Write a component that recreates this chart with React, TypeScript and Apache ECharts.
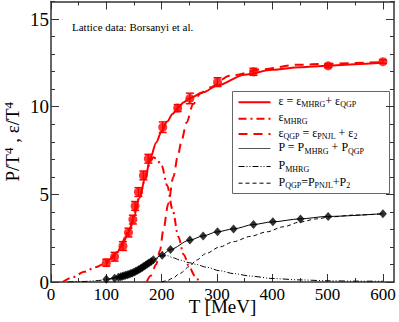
import React, { useEffect, useRef } from 'react';
import * as echarts from 'echarts';

// Lattice data (Borsanyi et al.) epsilon/T^4
const latticeT = [100, 115, 130, 140, 148, 152, 158, 167, 176, 202, 229, 251, 301, 366, 501, 600];
const latticeE = [1.1, 1.44, 2.05, 2.82, 3.56, 4.34, 5.13, 6.08, 7.03, 8.83, 9.92, 10.47, 11.4, 11.99, 12.33, 12.57];
const latticeErr = [0.2, 0.25, 0.25, 0.25, 0.25, 0.25, 0.25, 0.25, 0.25, 0.3, 0.2, 0.3, 0.25, 0.2, 0.1, 0.1];

// Lattice data P/T^4
const pDataT = [100, 115, 122, 126, 129, 132, 135, 138, 141, 144, 147, 150, 153, 156, 159, 162, 165, 168, 171, 174, 177, 181, 185, 201, 216, 251, 275, 301, 330, 366, 401, 451, 501, 600];
const pDataV = [0.15, 0.21, 0.27, 0.3, 0.33, 0.35, 0.38, 0.41, 0.44, 0.48, 0.52, 0.56, 0.61, 0.66, 0.71, 0.77, 0.83, 0.9, 0.96, 1.03, 1.09, 1.17, 1.27, 1.53, 1.86, 2.39, 2.63, 2.86, 3.03, 3.28, 3.43, 3.6, 3.74, 3.9];

// Model curves
const eTotT = [100, 110, 120, 130, 140, 150, 160, 170, 180, 190, 200, 210, 220, 230, 240, 250, 275, 300, 350, 400, 450, 500, 550, 600];
const eTotV = [1.05, 1.35, 1.72, 2.2, 2.85, 3.75, 4.8, 5.9, 7.1, 7.95, 8.6, 9.15, 9.6, 9.95, 10.25, 10.48, 10.82, 11.2, 11.82, 12.1, 12.25, 12.33, 12.42, 12.5];

const eMhrgT = [21, 40, 60, 80, 100, 120, 140, 160, 170, 180, 185, 190, 200, 210, 220, 230, 240, 250, 260, 268];
const eMhrgV = [0, 0.28, 0.58, 0.84, 1.08, 1.72, 2.85, 4.8, 5.9, 6.95, 7.12, 7.05, 6.65, 5.5, 4.1, 2.6, 1.55, 0.85, 0.35, 0];

const eQgpT = [173, 180, 190, 197, 203, 212, 221, 230, 236, 245, 257, 270, 287, 323, 384, 444, 500, 600];
const eQgpV = [0, 0.35, 1.0, 1.8, 2.95, 4.47, 5.98, 7.3, 8.07, 9.1, 10.15, 10.75, 11.1, 11.76, 12.14, 12.39, 12.45, 12.55];

const pTotT = [100, 120, 140, 160, 180, 200, 216, 250, 275, 300, 330, 366, 400, 450, 500, 600];
const pTotV = [0.14, 0.26, 0.44, 0.74, 1.15, 1.53, 1.86, 2.38, 2.63, 2.86, 3.03, 3.28, 3.43, 3.6, 3.74, 3.9];

const pMhrgT = [30, 60, 80, 100, 120, 140, 160, 180, 190, 200, 210, 221, 233, 250, 263, 280, 305, 330, 360, 400, 450, 500, 550, 600];
const pMhrgV = [0, 0.03, 0.07, 0.13, 0.25, 0.43, 0.73, 1.13, 1.33, 1.48, 1.5, 1.38, 1.25, 1.1, 1.0, 0.85, 0.64, 0.48, 0.34, 0.2, 0.12, 0.07, 0.05, 0.04];

const pQgpT = [200, 210, 220, 233, 250, 263, 280, 305, 330, 360, 390, 420, 450, 480, 504, 550, 600];
const pQgpV = [0, 0.08, 0.22, 0.49, 0.88, 1.25, 1.62, 2.0, 2.3, 2.6, 2.86, 3.15, 3.42, 3.6, 3.71, 3.82, 3.88];

// Axis ticks
const xMajor = [0, 100, 200, 300, 400, 500, 600];
const xMinor = [50, 150, 250, 350, 450, 550];
const yMajor = [0, 5, 10, 15];
const yMinor = [1, 2, 3, 4, 6, 7, 8, 9, 11, 12, 13, 14, 16];

const legendLabels = [
  'ε = ε{s|MHRG}+ ε{s|QGP}',
  'ε{s|MHRG}',
  'ε{s|QGP} = ε{s|PNJL} + ε{s|2}',
  'P = P{s|MHRG} + P{s|QGP}',
  'P{s|MHRG}',
  'P{s|QGP}=P{s|PNJL}+P{s|2}',
];

const FONT = 'Liberation Serif, Times New Roman, serif';
const RED = '#ff0000';

const zip = (a: number[], b: number[]) => a.map((x, i) => [x, b[i]]);

export default function App() {
  const ref = useRef<HTMLDivElement>(null);
  useEffect(() => {
    if (!ref.current) return;
    const chart = echarts.init(ref.current, undefined, { renderer: 'svg' });
    const xmin = 0, xmax = 620, ymin = 0, ymax = 16;
    const axisLineStyle = { color: '#333', width: 1.5 };
    const mkX = (pos: 'bottom' | 'top', ticks: number[], len: number, main: boolean, labels: boolean) => ({
      type: 'value', position: pos, min: xmin, max: xmax,
      axisLine: { show: main, onZero: false, lineStyle: axisLineStyle },
      axisTick: { show: true, inside: true, length: len, customValues: ticks, lineStyle: { color: '#333', width: 1 } },
      axisLabel: labels
        ? { show: true, customValues: xMajor, fontFamily: FONT, fontSize: 17, color: '#000', margin: 4 }
        : { show: false },
      splitLine: { show: false },
      ...(labels ? {
        name: 'T [MeV]', nameLocation: 'middle', nameGap: 15, nameMoveOverlap: false,
        nameTextStyle: { fontFamily: FONT, fontSize: 19, color: '#000', verticalAlign: 'top' },
      } : {}),
    });
    const mkY = (pos: 'left' | 'right', ticks: number[], len: number, main: boolean, labels: boolean) => ({
      type: 'value', position: pos, min: ymin, max: ymax,
      axisLine: { show: main, onZero: false, lineStyle: axisLineStyle },
      axisTick: { show: true, inside: true, length: len, customValues: ticks, lineStyle: { color: '#333', width: 1 } },
      axisLabel: labels
        ? { show: true, customValues: yMajor, fontFamily: FONT, fontSize: 19, color: '#000', margin: 2 }
        : { show: false },
      splitLine: { show: false },
      ...(labels ? {
        name: 'P/T{sup|4} , ε/T{sup|4}', nameLocation: 'middle', nameGap: 28, nameRotate: 90, nameMoveOverlap: false,
        nameTextStyle: {
          fontFamily: FONT, fontSize: 19, color: '#000',
          rich: { sup: { fontFamily: FONT, fontSize: 13, color: '#000', padding: [0, 0, 8, 0] } },
        },
      } : {}),
    });

    const line = (name: string, t: number[], v: number[], color: string, width: number, dash: any) => ({
      name, type: 'line', data: zip(t, v), showSymbol: false, symbol: 'none',
      smooth: 0.3, smoothMonotone: 'x',
      lineStyle: { color, width, type: dash },
      z: 3, silent: true,
    });

    const rowY = [10.7, 27.3, 42.5, 57, 75, 91.7];
    const rowStyles = [
      { stroke: RED, lineWidth: 2, lineDash: null },
      { stroke: RED, lineWidth: 2, lineDash: [8, 4, 2, 4] },
      { stroke: RED, lineWidth: 2, lineDash: [9, 6] },
      { stroke: '#555', lineWidth: 1.2, lineDash: null },
      { stroke: '#000', lineWidth: 1, lineDash: [6, 2, 1, 2, 1, 2] },
      { stroke: '#000', lineWidth: 1, lineDash: [4, 3] },
    ];
    const legendChildren: any[] = [
      { type: 'rect', shape: { x: 0, y: 0, width: 157, height: 102 }, style: { fill: '#fff', stroke: '#666', lineWidth: 1 } },
    ];
    rowY.forEach((y, i) => {
      legendChildren.push({
        type: 'line', shape: { x1: 6, y1: y, x2: 38, y2: y },
        style: { ...rowStyles[i], lineDash: rowStyles[i].lineDash || undefined },
      });
      legendChildren.push({
        type: 'text', x: 46, y: y - 1.5,
        style: {
          text: legendLabels[i], fontFamily: FONT, fontSize: 12, fill: '#000',
          verticalAlign: 'middle', align: 'left',
          rich: { s: { fontFamily: FONT, fontSize: 8, fill: '#000', padding: [8, 0, 0, 0] } },
        },
      });
    });

    chart.setOption({
      animation: false,
      backgroundColor: '#fff',
      grid: { left: 51, right: 5, top: 1.5, bottom: 40, containLabel: false, outerBoundsMode: 'none' },
      xAxis: [
        mkX('bottom', xMajor, 8, true, true),
        mkX('bottom', xMinor, 4, false, false),
        mkX('top', xMajor, 8, true, false),
        mkX('top', xMinor, 4, false, false),
      ],
      yAxis: [
        mkY('left', yMajor, 8, true, true),
        mkY('left', yMinor, 4, false, false),
        mkY('right', yMajor, 8, true, false),
        mkY('right', yMinor, 4, false, false),
      ],
      graphic: [
        {
          type: 'text', left: 72, top: 21,
          style: { text: 'Lattice data: Borsanyi et al.', fontFamily: FONT, fontSize: 11, fill: '#000' },
        },
        { type: 'group', left: 232, top: 91, children: legendChildren, z: 10 },
      ],
      series: [
        line('P QGP', pQgpT, pQgpV, '#000', 1, [4, 3]),
        line('P MHRG', pMhrgT, pMhrgV, '#000', 1, [6, 2, 1, 2, 1, 2]),
        line('P', pTotT, pTotV, '#000', 1, 'solid'),
        {
          name: 'P lattice', type: 'scatter', data: zip(pDataT, pDataV),
          symbol: 'diamond', symbolSize: [8, 9], itemStyle: { color: '#000' }, z: 4, silent: true,
        },
        line('e MHRG', eMhrgT, eMhrgV, RED, 2, [8, 4, 2, 4]),
        line('e QGP', eQgpT, eQgpV, RED, 2, [9, 6]),
        line('e', eTotT, eTotV, RED, 2, 'solid'),
        {
          name: 'e err', type: 'custom', silent: true, z: 5,
          data: latticeT.map((t, i) => [t, latticeE[i], latticeErr[i]]),
          renderItem: (params: any, api: any) => {
            const x = api.value(0), y = api.value(1), e = api.value(2);
            const top = api.coord([x, y + e]);
            const bot = api.coord([x, y - e]);
            const st = { stroke: RED, lineWidth: 1.5 };
            return {
              type: 'group',
              children: [
                { type: 'line', shape: { x1: top[0], y1: top[1], x2: bot[0], y2: bot[1] }, style: st },
                { type: 'line', shape: { x1: top[0] - 4, y1: top[1], x2: top[0] + 4, y2: top[1] }, style: st },
                { type: 'line', shape: { x1: bot[0] - 4, y1: bot[1], x2: bot[0] + 4, y2: bot[1] }, style: st },
              ],
            };
          },
        },
        {
          name: 'e lattice', type: 'scatter', data: zip(latticeT, latticeE),
          symbol: 'circle', symbolSize: 9, itemStyle: { color: RED }, z: 6, silent: true,
        },
      ],
    });
    return () => chart.dispose();
  }, []);
  return <div ref={ref} style={{ position: 'fixed', left: 0, top: 0, width: 399, height: 322 }} />;
}
